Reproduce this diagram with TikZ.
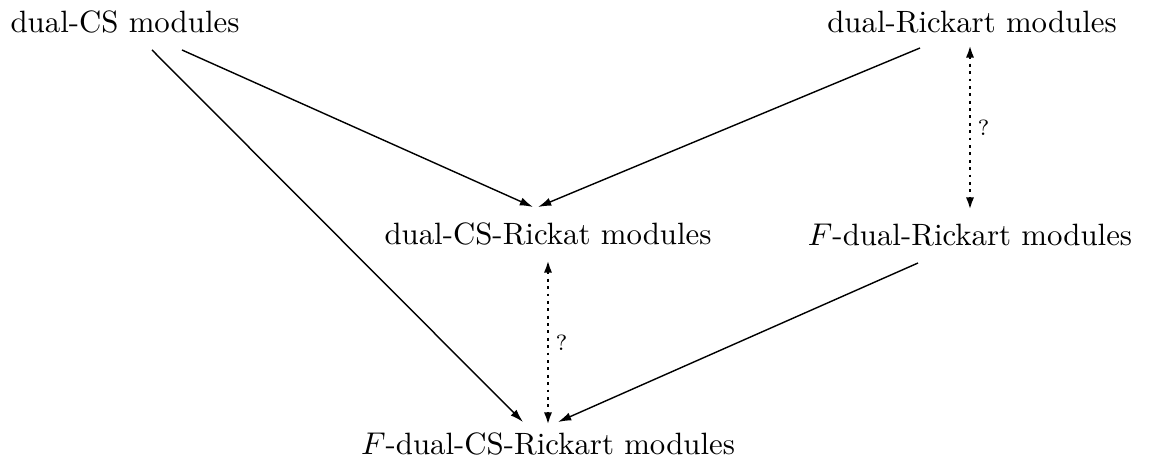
\documentclass[tikz,border=0pt]{standalone}
\usetikzlibrary{arrows.meta,calc}
\tikzset{
  lbl/.style={anchor=base,inner sep=0pt,font=\fontsize{9.8pt}{12pt}\selectfont},
  imp/.style={line width=0.45pt,-{Latex[length=4.2pt,width=2.6pt]}},
  open/.style={line width=0.9pt,dash pattern=on 0.9pt off 1.45pt,
    {Latex[length=4pt,width=2.6pt]}-{Latex[length=4pt,width=2.6pt]}},
  qmark/.style={font=\scriptsize,inner sep=2pt}
}
\begin{document}
\begin{tikzpicture}[x=0.011175cm,y=-0.011175cm]
\useasboundingbox (0,0) rectangle (1149,462);
% module classes
\node[lbl] (cs)   at (125,33)  {dual-CS modules};
\node[lbl] (dr)   at (972,33)  {dual-Rickart modules};
\node[lbl] (csr)  at (548,245) {dual-CS-Rickat modules};
\node[lbl] (fdr)  at (970,246) {$F$-dual-Rickart modules};
\node[lbl] (fcsr) at (548,455) {$F$-dual-CS-Rickart modules};
% implications
\draw[imp] ($(cs.base)+(57,17)$) -- ($(csr.base)+(-15,-38)$);
\draw[imp] ($(cs.base)+(27,17)$) -- ($(fcsr.base)+(-25,-33)$);
\draw[imp] ($(dr.base)+(-52,15)$) -- ($(csr.base)+(-10,-38)$);
\draw[imp] ($(fdr.base)+(-52,17)$) -- ($(fcsr.base)+(10,-33)$);
% open questions
\draw[open] ($(dr.base)+(-2,12)$) -- node[qmark,right,pos=0.5] {?} ($(fdr.base)+(0,-36)$);
\draw[open] ($(csr.base)+(0,15)$) -- node[qmark,right,pos=0.5] {?} ($(fcsr.base)+(0,-30)$);
\end{tikzpicture}
\end{document}
